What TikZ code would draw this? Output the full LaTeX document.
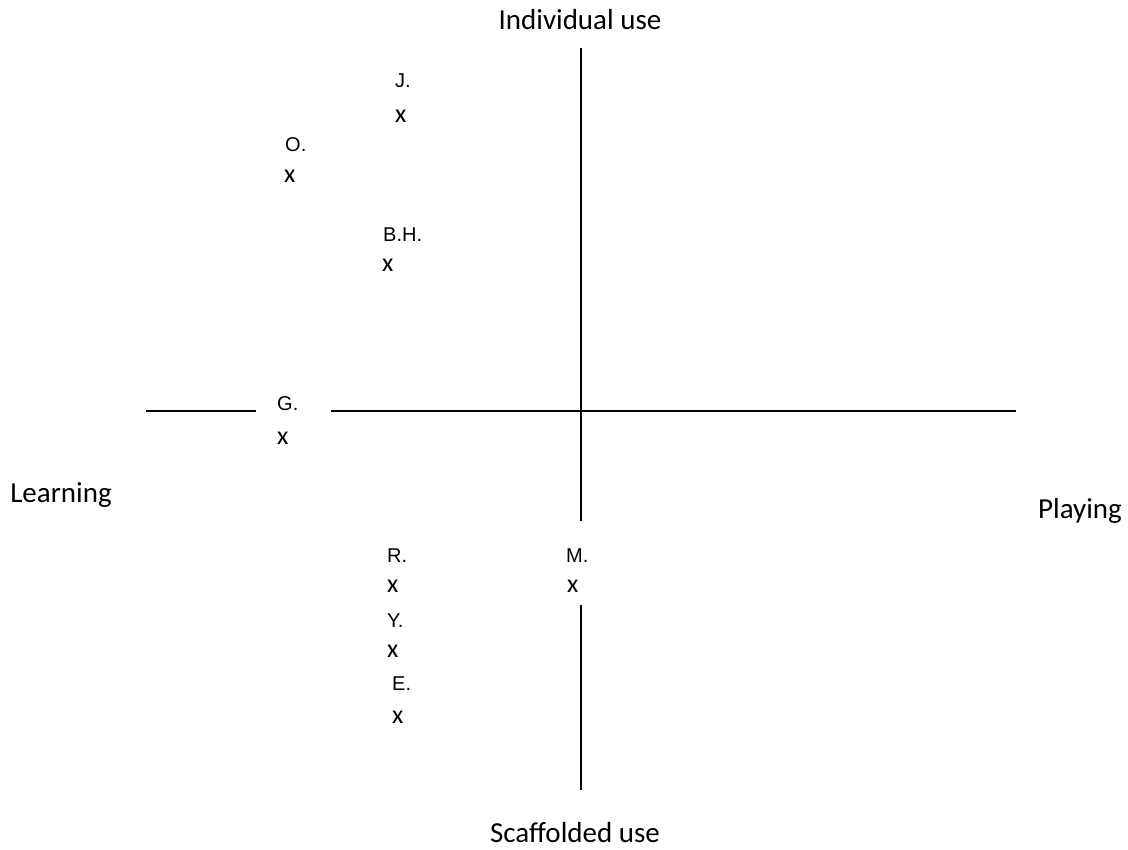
\documentclass[tikz,border=0pt]{standalone}
\usepackage{fontspec}
\setmainfont{Carlito}
\newfontfamily\lblfont{Liberation Sans}
\begin{document}
\begin{tikzpicture}[x=1pt,y=-1pt,
  axis/.style={line width=2pt},
  title/.style={inner sep=0pt,anchor=base,font=\fontsize{29}{34}\selectfont},
  who/.style={inner sep=0pt,anchor=base west,font=\lblfont\fontsize{20}{24}\selectfont},
  mark x/.style={inner sep=0pt,anchor=base west,font=\fontsize{26}{30}\selectfont}]
\useasboundingbox (0,0) rectangle (1128,850);
% axes
\coordinate (vt) at (580.5,48);
\coordinate (vm) at (580.5,521);
\coordinate (vb1) at (580.5,605);
\coordinate (vb2) at (580.5,790);
\coordinate (hl1) at (146,411.5);
\coordinate (hl2) at (256,411.5);
\coordinate (hr1) at (331,411.5);
\coordinate (hr2) at (1016,411.5);
\draw[axis] (vt) -- (vm);
\draw[axis] (vb1) -- (vb2);
\draw[axis] (hl1) -- (hl2);
\draw[axis] (hr1) -- (hr2);
% titles
\node[title] (ind) at (580,30) {Individual use};
\node[title] (sca) at (575,842) {Scaffolded use};
\node[title] (lea) at (61,502) {Learning};
\node[title] (pla) at (1080,518) {Playing};
% points
\node[who] (J) at (395,88) {J.};
\node[mark x] (Jx) at (395,123) {x};
\node[who] (O) at (285,152) {O.};
\node[mark x] (Ox) at (284,183) {x};
\node[who] (BH) at (383,242) {B.H.};
\node[mark x] (BHx) at (382,272) {x};
\node[who] (G) at (277,410) {G.};
\node[mark x] (Gx) at (277,445) {x};
\node[who] (R) at (387,562) {R.};
\node[mark x] (Rx) at (387,592) {x};
\node[who] (Y) at (387,627) {Y.};
\node[mark x] (Yx) at (387,657) {x};
\node[who] (E) at (392,690) {E.};
\node[mark x] (Ex) at (392,723) {x};
\node[who] (M) at (566,562) {M.};
\node[mark x] (Mx) at (567,592) {x};
\end{tikzpicture}
\end{document}
